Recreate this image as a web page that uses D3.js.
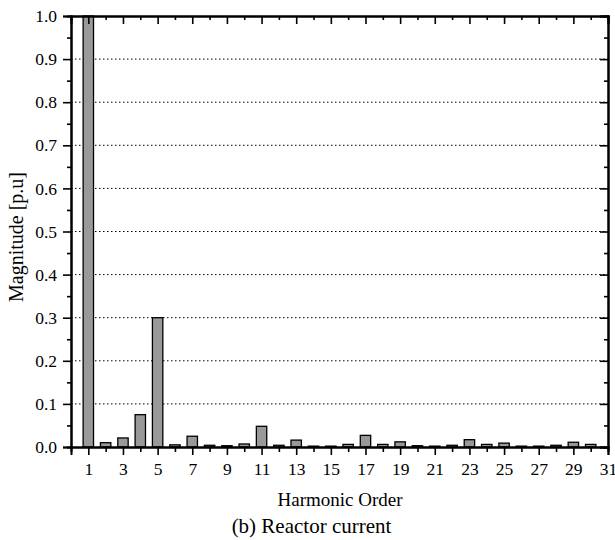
<!DOCTYPE html>
<html>
<head>
<meta charset="utf-8">
<script src="https://cdn.jsdelivr.net/npm/d3@7"></script>
<style>
  body { margin: 0; background: #fff; }
</style>
</head>
<body>
<div id="chart"></div>
<script>
// harmonic orders and magnitudes (p.u.)
const orders = d3.range(1, 31);
const magnitudes = [1.0, 0.01, 0.021, 0.075, 0.3, 0.005, 0.025, 0.004, 0.003, 0.007,
                    0.048, 0.004, 0.016, 0.002, 0.002, 0.006, 0.027, 0.006, 0.012, 0.003,
                    0.002, 0.004, 0.017, 0.006, 0.009, 0.002, 0.002, 0.004, 0.011, 0.006];
const xTickLabels = d3.range(1, 32, 2);
const xMinor = d3.range(2, 31, 2);
const yTicks = d3.range(0, 1.01, 0.1).map(v => +v.toFixed(1));
const yMinor = d3.range(0.05, 1, 0.1).map(v => +v.toFixed(2));

const FONT = '"Liberation Serif"';
const width = 615, height = 540;
const margin = { top: 16, right: 7, bottom: 93, left: 71 };
const w = width - margin.left - margin.right;
const h = height - margin.top - margin.bottom;

const svg = d3.select("#chart").append("svg")
    .attr("width", width)
    .attr("height", height)
    .style("font-family", FONT);

const g = svg.append("g")
    .attr("transform", `translate(${margin.left},${margin.top})`);

const x = d3.scaleLinear().domain([0, 31]).range([0, w]);
const y = d3.scaleLinear().domain([0, 1]).range([h, 0]);

// dotted grid
g.selectAll(".grid")
    .data(yTicks.filter(d => d > 0 && d < 1))
    .enter().append("line")
    .attr("x1", 0).attr("x2", w)
    .attr("y1", d => y(d)).attr("y2", d => y(d))
    .attr("stroke", "#000")
    .attr("stroke-width", 1)
    .attr("stroke-dasharray", "1.5,2.5");

// bars
const barW = x(0.6) - x(0);
g.selectAll(".bar")
    .data(magnitudes)
    .enter().append("rect")
    .attr("x", (d, i) => x(orders[i]) - barW / 2)
    .attr("y", d => y(d))
    .attr("width", barW)
    .attr("height", d => y(0) - y(d))
    .attr("fill", "#999")
    .attr("stroke", "#000")
    .attr("stroke-width", 1.3);

// axes
const axBottom = d3.axisBottom(x).tickValues(xTickLabels).tickSize(8).tickFormat(d3.format("d"));
const axBottomMinor = d3.axisBottom(x).tickValues(xMinor).tickSize(5).tickFormat("");
const axTop = d3.axisTop(x).tickValues(xTickLabels).tickSize(-8).tickFormat("");
const axTopMinor = d3.axisTop(x).tickValues(xMinor).tickSize(-4).tickFormat("");
const axLeft = d3.axisLeft(y).tickValues(yTicks).tickSize(8).tickFormat(d3.format(".1f"));
const axLeftMinor = d3.axisLeft(y).tickValues(yMinor).tickSize(4).tickFormat("");
const axRight = d3.axisRight(y).tickValues(yTicks).tickSize(-8).tickFormat("");
const axRightMinor = d3.axisRight(y).tickValues(yMinor).tickSize(-4).tickFormat("");

function styleAxis(sel) {
    sel.attr("font-family", "Liberation Serif").attr("font-size", 17.5);
    sel.select(".domain").attr("stroke-width", 2);
    sel.selectAll(".tick line").attr("stroke-width", 1.6);
    sel.selectAll("text")
        .attr("font-family", "Liberation Serif")
        .attr("font-size", 17.5)
        .style("font-family", FONT)
        .style("font-size", "17.5px")
        .attr("fill", "#000");
}

g.append("g").attr("transform", `translate(0,${h})`).call(axBottomMinor).call(styleAxis);
g.append("g").attr("transform", `translate(0,${h})`).call(axBottom).call(styleAxis)
    .selectAll("text").attr("y", 28).attr("dy", null);
g.append("g").call(axTopMinor).call(styleAxis);
g.append("g").call(axTop).call(styleAxis);
g.append("g").call(axLeftMinor).call(styleAxis);
g.append("g").call(axLeft).call(styleAxis)
    .selectAll("text").attr("x", -14);
g.append("g").attr("transform", `translate(${w},0)`).call(axRightMinor).call(styleAxis);
g.append("g").attr("transform", `translate(${w},0)`).call(axRight).call(styleAxis);

// titles
svg.append("text")
    .attr("transform", `translate(23,237) rotate(-90)`)
    .attr("text-anchor", "middle")
    .style("font-family", FONT)
    .style("font-size", "20px")
    .text("Magnitude [p.u]");

svg.append("text")
    .attr("x", 340)
    .attr("y", 506)
    .attr("text-anchor", "middle")
    .style("font-family", FONT)
    .style("font-size", "19px")
    .text("Harmonic Order");

svg.append("text")
    .attr("x", 311.5)
    .attr("y", 533)
    .attr("text-anchor", "middle")
    .style("font-family", FONT)
    .style("font-size", "21px")
    .text("(b) Reactor current");
</script>
</body>
</html>
